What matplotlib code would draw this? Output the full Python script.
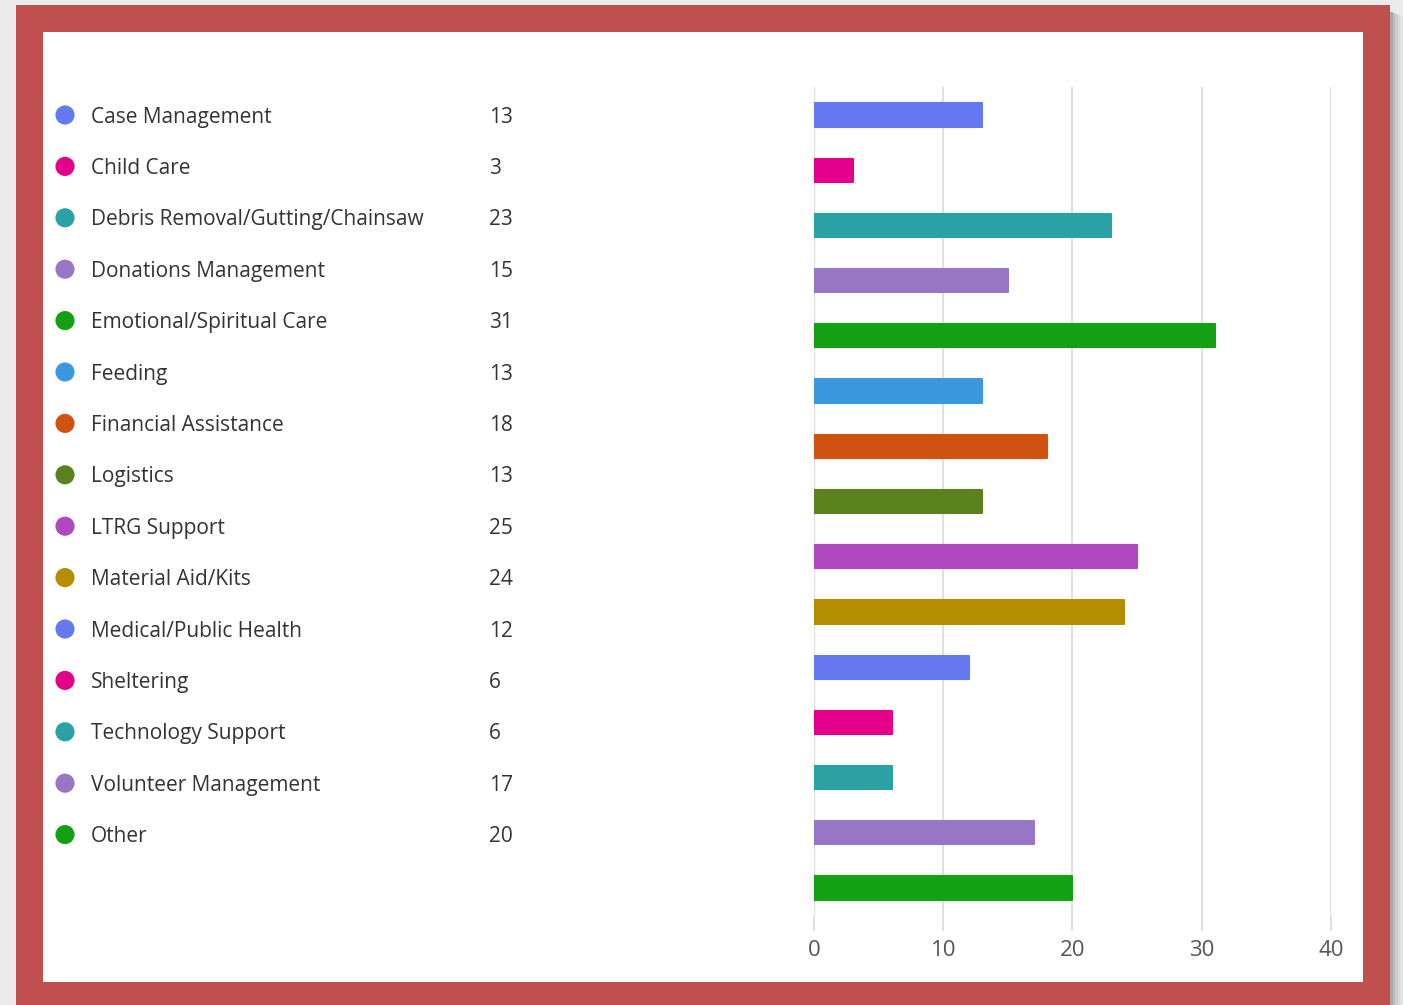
import matplotlib
matplotlib.use("Agg")
import matplotlib.pyplot as plt
from matplotlib.patches import Rectangle

# data
categories = ["Case Management", "Child Care", "Debris Removal/Gutting/Chainsaw",
              "Donations Management", "Emotional/Spiritual Care", "Feeding",
              "Financial Assistance", "Logistics", "LTRG Support", "Material Aid/Kits",
              "Medical/Public Health", "Sheltering", "Technology Support",
              "Volunteer Management", "Other"]
counts = [13, 3, 23, 15, 31, 13, 18, 13, 25, 24, 12, 6, 6, 17, 20]
colors = ["#6479ef", "#e4008a", "#2aa1a3", "#9876c6", "#13a013", "#3c98de",
          "#cf5211", "#5a8320", "#b048c0", "#b38e00", "#6479ef", "#e4008a",
          "#2aa1a3", "#9876c6", "#13a013"]
x_ticks = [0, 10, 20, 30, 40]

plt.rcParams['font.family'] = ['Open Sans', 'DejaVu Sans']

W, H = 1403, 1005
fig = plt.figure(figsize=(W / 100, H / 100), dpi=100)
fig.patch.set_facecolor("#ececec")

# background / frame / legend layer in pixel coordinates
bg = fig.add_axes([0, 0, 1, 1], zorder=0)
bg.set_xlim(0, W)
bg.set_ylim(H, 0)
bg.axis("off")

# drop shadow on the right of the frame
for k, a in enumerate([0.45, 0.3, 0.2, 0.12, 0.06]):
    bg.add_patch(Rectangle((1390 + k * 2.5, 12 + k), 2.5, H, color="#555555", alpha=a, lw=0))
bg.add_patch(Rectangle((16, 5), 1374, H, color="#c0504d", lw=0))
bg.add_patch(Rectangle((43, 32), 1320, 950, color="white", lw=0))

# legend rows
row0, row_step = 117, 51.4
for i, (name, val, col) in enumerate(zip(categories, counts, colors)):
    y = row0 + i * row_step
    bg.scatter([65], [y - 2], s=190, color=col, edgecolors="none")
    bg.text(91, y, name, fontsize=15, color="#333333", va="center", ha="left")
    bg.text(489, y, str(val), fontsize=15, color="#333333", va="center", ha="left")

# bar chart
top_px, bot_px = 87.4, 915.6
left_px, right_px = 814, 1331
ax = fig.add_axes([left_px / W, 1 - bot_px / H, (right_px - left_px) / W, (bot_px - top_px) / H],
                  zorder=1)
ax.patch.set_alpha(0)
pos = list(range(len(categories)))
bars = ax.barh(pos, counts, height=0.42, color=colors, edgecolor=colors, linewidth=1.5, zorder=3)
for b in bars:
    b.set_joinstyle("round")
ax.set_ylim(len(categories) - 0.5, -0.5)
ax.set_xlim(0, 40)
ax.set_xticks(x_ticks)
ax.set_yticks([])
ax.grid(axis="x", color="#e0e0e0", linewidth=1.5, zorder=0)
for s in ax.spines.values():
    s.set_visible(False)
ax.axvline(0, color="#d4d4d4", linewidth=1.5, zorder=1)
ax.tick_params(axis="x", length=10.5, width=1.5, color="#e0e0e0", pad=7,
               labelsize=16, labelcolor="#555555")

fig.savefig("out.png", dpi=100, facecolor=fig.get_facecolor())
